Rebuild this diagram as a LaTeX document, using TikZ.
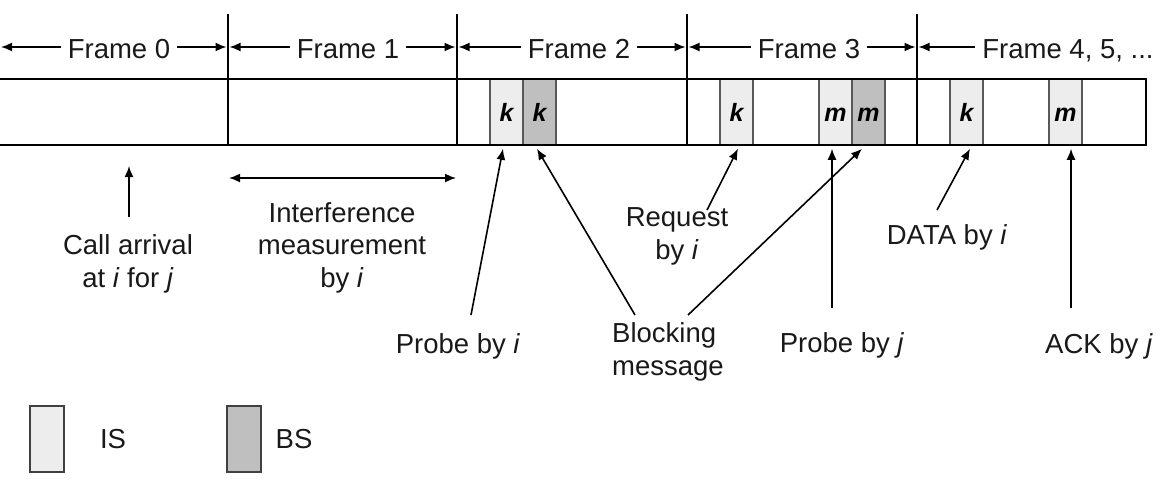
\documentclass[tikz,border=0pt]{standalone}
\usepackage{fontspec}
\setmainfont{Liberation Sans}
\usetikzlibrary{arrows.meta}
\begin{document}
\begin{tikzpicture}[x=1pt,y=-1pt,
  lbl/.style={font=\fontsize{27.5}{32.5}\selectfont, inner sep=0pt, text=black!90},
  flbl/.style={lbl, inner xsep=7pt},
  slot/.style={draw=black!65, line width=1.5pt, minimum width=33pt, minimum height=66pt,
    inner sep=0pt, text height=18pt, text depth=0pt, font=\fontsize{25}{30}\selectfont\bfseries\itshape},
  isslot/.style={slot, fill=black!7},
  bsslot/.style={slot, fill=black!25},
  tipA/.tip={Latex[length=11pt,width=9pt]},
  arr/.style={line width=1.6pt, -tipA},
  darr/.style={line width=1.6pt, tipA-tipA},
  barline/.style={line width=2.6pt},
  tickline/.style={line width=1.4pt}]
\useasboundingbox (0,0) rectangle (1159,479);

% slots
\node[isslot] (isk2) at (506.5,112) {k};
\node[bsslot] (bsk2) at (539.5,112) {k};
\node[isslot] (isk3) at (736.5,112) {k};
\node[isslot] (ism3) at (835.5,112) {m};
\node[bsslot] (bsm3) at (868.5,112) {m};
\node[isslot] (isk4) at (966.5,112) {k};
\node[isslot] (ism4) at (1065.5,112) {m};

% bar
\draw[barline] (-10,79) -- (1146,79) -- (1146,145) -- (-10,145);
\foreach \x in {228,457,687,917} {
  \draw[barline] (\x,79) -- (\x,145);
  \draw[tickline] (\x,14) -- (\x,79);
}

% frame labels
\coordinate (d0r) at (1,47);
\coordinate (d1l) at (226.5,47);
\coordinate (d1r) at (229.5,47);
\coordinate (d2l) at (455.5,47);
\coordinate (d2r) at (458.5,47);
\coordinate (d3l) at (685.5,47);
\coordinate (d3r) at (688.5,47);
\coordinate (d4l) at (915.5,47);
\coordinate (d4r) at (918.5,47);
\node[flbl, anchor=base] (f0) at (119,58) {Frame 0};
\node[flbl, anchor=base] (f1) at (348,58) {Frame 1};
\node[flbl, anchor=base] (f2) at (579,58) {Frame 2};
\node[flbl, anchor=base] (f3) at (809,58) {Frame 3};
\node[flbl, anchor=base] (f4) at (1068,58) {Frame 4, 5, ...};
\draw[arr] (f0.west |- d0r) -- (d0r);
\draw[arr] (f0.east |- d1l) -- (d1l);
\draw[arr] (f1.west |- d1r) -- (d1r);
\draw[arr] (f1.east |- d2l) -- (d2l);
\draw[arr] (f2.west |- d2r) -- (d2r);
\draw[arr] (f2.east |- d3l) -- (d3l);
\draw[arr] (f3.west |- d3r) -- (d3r);
\draw[arr] (f3.east |- d4l) -- (d4l);
\draw[arr] (f4.west |- d4r) -- (d4r);

% labels below (base = baseline of last line)
\node[lbl, align=center, anchor=base] (call) at (128,287) {Call arrival\\at \textit{i} for \textit{j}};
\node[lbl, align=center, anchor=base] (intf) at (342,287) {Interference\\measurement\\by \textit{i}};
\node[lbl, anchor=base] (probei) at (458,353) {Probe by \textit{i}};
\node[lbl, align=left, anchor=base west] (block) at (612,375) {Blocking\\message};
\node[lbl, align=center, anchor=base] (req) at (677,259) {Request\\by \textit{i}};
\node[lbl, anchor=base] (probej) at (842,352) {Probe by \textit{j}};
\node[lbl, anchor=base] (data) at (947,244) {DATA by \textit{i}};
\node[lbl, anchor=base] (ack) at (1099,353) {ACK by \textit{j}};

% connectors
\coordinate (tcall) at (129,217);
\coordinate (hcall) at (129,166);
\draw[arr] (tcall) -- (hcall);
\coordinate (im1) at (229,178);
\coordinate (im2) at (456,178);
\draw[darr] (im1) -- (im2);
\coordinate (tpi) at (471,315);
\coordinate (tb1) at (635,315);
\coordinate (tb2) at (688,315);
\coordinate (treq) at (707,210);
\coordinate (tpj) at (832,308);
\coordinate (tdata) at (937,210);
\coordinate (tack) at (1071,308);
\draw[arr] (tpi) -- ([xshift=-3.5pt,yshift=-3pt]isk2.south);
\draw[arr] (tb1) -- ([xshift=-2.5pt,yshift=-3pt]bsk2.south);
\draw[arr] (tb2) -- ([xshift=-6.5pt,yshift=-3pt]bsm3.south);
\draw[arr] (treq) -- ([xshift=1.5pt,yshift=-3pt]isk3.south);
\draw[arr] (tpj) -- ([xshift=-3.5pt,yshift=-3pt]ism3.south);
\draw[arr] (tdata) -- ([xshift=3.5pt,yshift=-3pt]isk4.south);
\draw[arr] (tack) -- ([xshift=5.5pt,yshift=-3pt]ism4.south);

% legend
\node[isslot, minimum width=34pt, draw=black!75] (legis) at (47,439) {};
\node[lbl, anchor=base] (legist) at (113,448) {IS};
\node[bsslot, minimum width=34pt, draw=black!75] (legbs) at (244,439) {};
\node[lbl, anchor=base] (legbst) at (294,448) {BS};
\end{tikzpicture}
\end{document}
